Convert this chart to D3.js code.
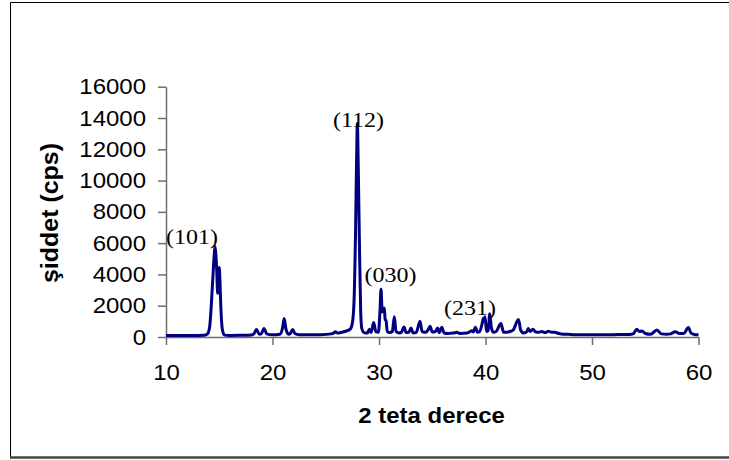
<!DOCTYPE html>
<html lang="tr">
<head>
    <meta charset="UTF-8">
    <title>XRD</title>
    <script src="https://d3js.org/d3.v7.min.js"></script>
    <style>
        body { margin: 0; background: #fff; }
        svg { display: block; }
        .axis path, .axis line { stroke: #6e6e6e; stroke-width: 1.5px; }
        .axis text { font-family: "Liberation Sans", Arial, sans-serif; font-size: 22px; fill: #000; }
    </style>
</head>
<body>
<script>
    // 2-theta positions (degrees) and intensities (cps)
    const twoTheta = [
        10.0, 11.0, 12.0, 13.0, 13.6, 13.9, 14.1, 14.25, 14.4, 14.52, 14.6, 14.68, 14.76, 14.85, 14.93, 15.0, 15.07, 15.15, 15.3, 15.5,
        16.0, 17.0, 18.0, 18.25, 18.5, 18.75, 18.95, 19.2, 19.45, 20.0, 20.7, 20.95, 21.1, 21.25, 21.5, 21.7, 21.9, 22.1, 22.5,
        23.5, 24.5, 25.5, 25.75, 25.9, 26.1, 26.5, 27.0, 27.3, 27.5, 27.65, 27.8, 27.9, 27.97, 28.05, 28.15, 28.28, 28.4, 28.6,
        28.9, 29.1, 29.25, 29.5, 29.7, 29.95, 30.1, 30.19, 30.3, 30.4, 30.5, 30.58, 30.66, 30.78, 31.0, 31.25, 31.44, 31.6, 31.9,
        32.1, 32.35, 32.55, 32.8, 33.0, 33.2, 33.5, 33.85, 34.05, 34.4, 34.6, 34.8, 35.0, 35.3, 35.5, 35.65, 35.9, 36.1, 36.5,
        37.0, 37.3, 37.6, 38.3, 38.7, 38.85, 39.05, 39.25, 39.45, 39.7, 39.8, 39.88, 39.95, 40.1, 40.25, 40.4, 40.55, 40.75,
        41.0, 41.45, 41.7, 42.0, 42.3, 42.6, 43.1, 43.3, 43.6, 43.9, 44.0, 44.2, 44.45, 44.7, 45.0, 45.3, 45.6, 45.9, 46.2,
        46.5, 46.9, 47.3, 47.75, 48.5, 49.5, 50.5, 51.5, 52.5, 53.5, 53.9, 54.2, 54.45, 54.7, 55.0, 55.5, 56.1, 56.5, 57.0,
        57.4, 57.8, 58.2, 58.6, 59.05, 59.3, 59.7, 60.0
    ];
    const intensity = [
        100, 95, 100, 100, 110, 200, 650, 2000, 3800, 5200, 5800, 5300, 4300, 2800, 3600, 4450, 3500, 1900, 450, 120,
        100, 110, 130, 200, 480, 180, 200, 550, 200, 140, 180, 600, 1180, 550, 180, 250, 480, 220, 140,
        140, 150, 200, 260, 340, 250, 300, 400, 500, 900, 2200, 6800, 11500, 13650, 11000, 6500, 1600, 500, 280,
        250, 500, 280, 930, 340, 300, 1800, 3050, 1600, 1800, 1850, 1100, 1050, 350, 280, 350, 1300, 350, 250,
        300, 640, 280, 300, 580, 260, 300, 1000, 350, 300, 450, 680, 320, 350, 580, 280, 620, 260, 230,
        250, 300, 230, 250, 400, 320, 620, 300, 350, 900, 1200, 1100, 1300, 350, 400, 1480, 600, 300,
        350, 870, 300, 300, 350, 450, 1120, 450, 250, 350, 550, 350, 500, 330, 300, 350, 280, 370, 300,
        300, 220, 180, 170, 150, 150, 150, 140, 160, 160, 220, 500, 350, 380, 220, 170, 450, 200, 180,
        200, 340, 220, 220, 600, 250, 150, 140
    ];

    const xTicks = [10, 20, 30, 40, 50, 60];
    const yTicks = [0, 2000, 4000, 6000, 8000, 10000, 12000, 14000, 16000];

    // Miller index labels and where they sit (2-theta, cps at text baseline)
    const peakLabels = ["(101)", "(112)", "(030)", "(231)"];
    const labelTheta = [12.44, 28.08, 31.08, 38.54];
    const labelCps = [5945, 13455, 3535, 1406];

    const width = 729, height = 460;
    const stretch = 1.09;

    const svg = d3.select("body").append("svg")
        .attr("width", width)
        .attr("height", height);

    // outer frame
    svg.append("line").attr("x1", 10.5).attr("y1", 2.5).attr("x2", 729).attr("y2", 2.5)
        .attr("stroke", "#000").attr("stroke-width", 1);
    svg.append("line").attr("x1", 10.5).attr("y1", 2.5).attr("x2", 10.5).attr("y2", 458)
        .attr("stroke", "#000").attr("stroke-width", 1);
    svg.append("line").attr("x1", 10).attr("y1", 457.5).attr("x2", 729).attr("y2", 457.5)
        .attr("stroke", "#444").attr("stroke-width", 2.5);

    const x = d3.scaleLinear().domain([10, 60]).range([166, 698.5]);
    const y = d3.scaleLinear().domain([0, 16000]).range([337, 86.7]);

    const xAxis = svg.append("g")
        .attr("class", "axis")
        .attr("transform", `translate(0,${y(0)})`)
        .call(d3.axisBottom(x).tickValues(xTicks).tickFormat(d3.format("d"))
            .tickSize(8).tickPadding(19).tickSizeOuter(0));

    const yAxis = svg.append("g")
        .attr("class", "axis")
        .attr("transform", `translate(${x(10)},0)`)
        .call(d3.axisLeft(y).tickValues(yTicks).tickFormat(d3.format("d"))
            .tickSize(8).tickPadding(12).tickSizeOuter(0));

    // text in the original is slightly wide, stretch it horizontally
    xAxis.selectAll("text").each(function() {
        const t = d3.select(this);
        const ty = +t.attr("y");
        t.attr("y", 0).attr("transform", `translate(0,${ty}) scale(${stretch},1)`);
    });
    yAxis.selectAll("text").each(function() {
        const t = d3.select(this);
        const tx = +t.attr("x");
        t.attr("x", 0).attr("transform", `translate(${tx},0) scale(${stretch},1)`);
    });

    // axis titles
    svg.append("text")
        .attr("transform", `translate(431.5,423) scale(${stretch},1)`)
        .attr("text-anchor", "middle")
        .style("font-family", '"Liberation Sans", Arial, sans-serif')
        .style("font-weight", "bold")
        .style("font-size", "22px")
        .text("2 teta derece");

    svg.append("text")
        .attr("transform", "translate(58,213) rotate(-90)")
        .attr("text-anchor", "middle")
        .attr("textLength", 140)
        .attr("lengthAdjust", "spacingAndGlyphs")
        .style("font-family", '"Liberation Sans", Arial, sans-serif')
        .style("font-weight", "bold")
        .style("font-size", "23px")
        .text("şiddet (cps)");

    // pattern
    const line = d3.line()
        .x((d, i) => x(twoTheta[i]))
        .y(d => y(d))
        .curve(d3.curveMonotoneX);

    svg.append("path")
        .datum(intensity)
        .attr("fill", "none")
        .attr("stroke", "#000080")
        .attr("stroke-width", 3)
        .attr("stroke-linejoin", "round")
        .attr("d", line);

    // peak labels
    svg.selectAll(".peak")
        .data(peakLabels)
        .enter().append("text")
        .attr("class", "peak")
        .attr("transform", (d, i) => `translate(${x(labelTheta[i])},${y(labelCps[i])}) scale(${stretch},1)`)
        .attr("text-anchor", "middle")
        .style("font-family", '"Liberation Serif", "Times New Roman", serif')
        .style("font-size", "22px")
        .style("fill", "#000")
        .text(d => d);
</script>
</body>
</html>
